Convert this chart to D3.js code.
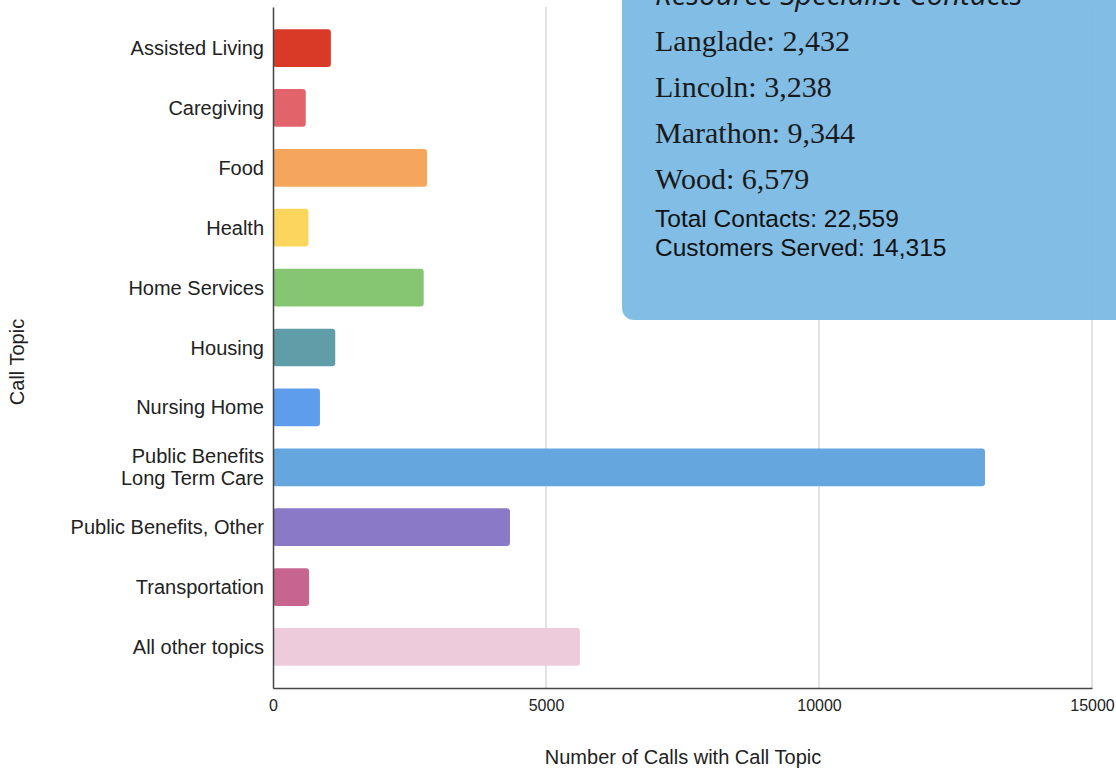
<!DOCTYPE html>
<html>
<head>
<meta charset="utf-8">
<script src="https://cdn.jsdelivr.net/npm/d3@7"></script>
<style>
  html, body { margin: 0; padding: 0; background: #fff; }
  svg { display: block; }
</style>
</head>
<body>
<svg id="chart" width="1116" height="769"></svg>
<script>
// Call topics (top to bottom) and number of calls for each
const topics = [
  "Assisted Living", "Caregiving", "Food", "Health", "Home Services",
  "Housing", "Nursing Home", "Public Benefits\nLong Term Care",
  "Public Benefits, Other", "Transportation", "All other topics"
];
const calls = [1060, 600, 2820, 650, 2760, 1140, 860, 13040, 4340, 660, 5620];
const barColors = [
  "#d93a27", "#e2636a", "#f6a65c", "#fcd65c", "#86c673",
  "#5f9ea9", "#5e9cec", "#65a6de", "#8a79c6", "#c8658f", "#eecbdb"
];
const xTicks = [0, 5000, 10000, 15000];

// Contacts summary panel
const panelTitle = "Resource Specialist Contacts";
const counties = ["Langlade", "Lincoln", "Marathon", "Wood"];
const countyContacts = ["2,432", "3,238", "9,344", "6,579"];
const totals = ["Total Contacts: 22,559", "Customers Served: 14,315"];

const svg = d3.select("#chart");
const plotLeft = 273, plotRight = 1092, plotTop = 7, plotBottom = 688;
const sans = "Liberation Sans, Arial, sans-serif";

const x = d3.scaleLinear().domain([0, 15000]).range([plotLeft, plotRight]);
const y = d3.scaleBand().domain(topics).range([plotTop, plotBottom])
  .paddingInner(0.37).paddingOuter(0.37);

// vertical gridlines
svg.append("g").selectAll("line").data(xTicks.slice(1)).join("line")
  .attr("x1", d => x(d)).attr("x2", d => x(d))
  .attr("y1", plotTop).attr("y2", plotBottom)
  .attr("stroke", "#d9d9d9").attr("stroke-width", 1.5);

// bars
svg.append("g").selectAll("rect").data(topics).join("rect")
  .attr("x", x(0))
  .attr("y", d => y(d))
  .attr("width", (d, i) => x(calls[i]) - x(0))
  .attr("height", y.bandwidth())
  .attr("rx", 3)
  .attr("fill", (d, i) => barColors[i]);

// axes
const xAxis = svg.append("g").attr("transform", `translate(0,${plotBottom})`)
  .call(d3.axisBottom(x).tickValues(xTicks).tickSize(0).tickPadding(12).tickFormat(d3.format("d")));
xAxis.select(".domain").attr("stroke", "#444").attr("stroke-width", 1.5);
xAxis.selectAll("text").attr("font-family", sans)
  .attr("font-size", 16).attr("fill", "#222");

const yAxis = svg.append("g").attr("transform", `translate(${plotLeft},0)`)
  .call(d3.axisLeft(y).tickSize(0).tickPadding(9).tickFormat(""));
yAxis.select(".domain").attr("stroke", "#444").attr("stroke-width", 1.5);

// category labels (multi-line where needed)
const labelG = svg.append("g")
  .attr("font-family", sans)
  .attr("font-size", 20).attr("fill", "#222").attr("text-anchor", "end");
topics.forEach(t => {
  const lines = t.split("\n");
  const cy = y(t) + y.bandwidth() / 2;
  const lh = 22;
  const txt = labelG.append("text").attr("x", plotLeft - 9);
  lines.forEach((ln, k) => {
    txt.append("tspan").attr("x", plotLeft - 9)
      .attr("y", cy + (k - (lines.length - 1) / 2) * lh)
      .attr("dy", "0.35em").text(ln);
  });
});

// axis titles
svg.append("text").attr("x", 683).attr("y", 764)
  .attr("text-anchor", "middle")
  .attr("font-family", sans)
  .attr("font-size", 20).attr("fill", "#222")
  .text("Number of Calls with Call Topic");

svg.append("text")
  .attr("transform", "translate(24,362) rotate(-90)")
  .attr("text-anchor", "middle")
  .attr("font-family", sans)
  .attr("font-size", 20).attr("fill", "#222")
  .text("Call Topic");

// summary panel
const panel = svg.append("g");
panel.append("rect")
  .attr("x", 622).attr("y", -30).attr("width", 520).attr("height", 350)
  .attr("rx", 12).attr("fill", "#7ab9e3").attr("fill-opacity", 0.94);

panel.append("text").attr("x", 655).attr("y", 5)
  .attr("font-family", "Open Sans, sans-serif").attr("font-style", "italic")
  .attr("font-size", 29.5).attr("fill", "#1a1a1a")
  .text(panelTitle);

counties.forEach((c, i) => {
  panel.append("text").attr("x", 655).attr("y", 51 + i * 46)
    .attr("font-family", "Liberation Serif, Times New Roman, serif")
    .attr("font-size", 30).attr("fill", "#1a1a1a")
    .text(`${c}: ${countyContacts[i]}`);
});

totals.forEach((t, i) => {
  panel.append("text").attr("x", 655).attr("y", 227 + i * 29)
    .attr("font-family", sans)
    .attr("font-size", 24.5).attr("fill", "#111")
    .text(t);
});
</script>
</body>
</html>
